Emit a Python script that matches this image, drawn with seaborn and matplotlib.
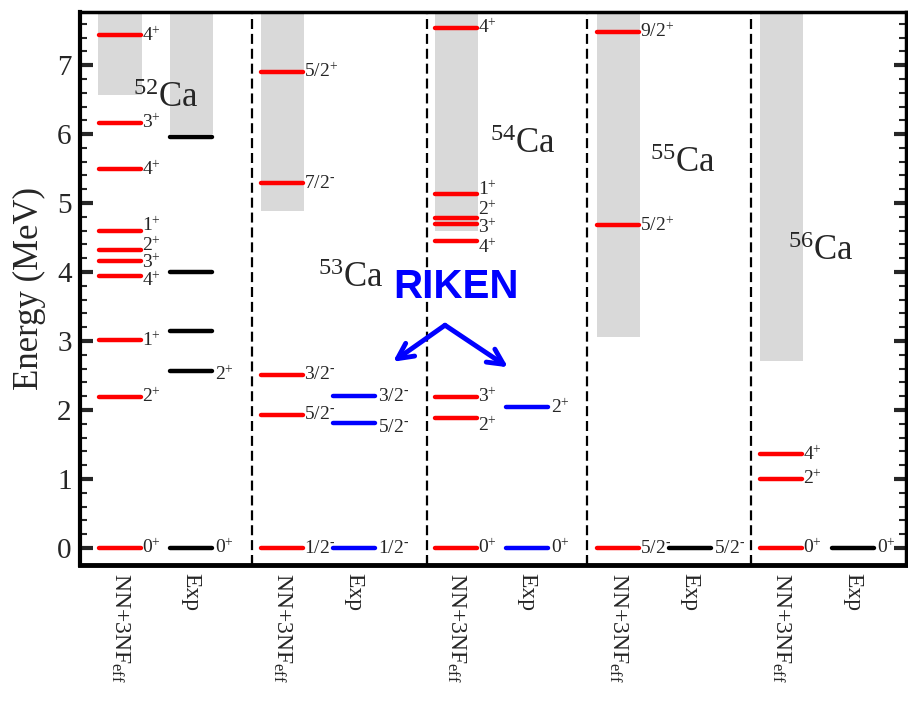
import numpy as np
import pandas as pd
import matplotlib
matplotlib.use("Agg")
import matplotlib.pyplot as plt
import seaborn as sns

# ---------------- data ----------------
nuclei = ["52", "53", "54", "55", "56"]
col_labels = ["NN+3NF$_{\\mathrm{eff}}$", "Exp"]

th_E = [
    [0.00, 2.19, 3.01, 3.94, 4.16, 4.32, 4.59, 5.49, 6.16, 7.43],
    [0.00, 1.93, 2.51, 5.29, 6.90],
    [0.00, 1.88, 2.19, 4.45, 4.70, 4.78, 5.13, 7.54],
    [0.00, 4.68, 7.48],
    [0.00, 1.00, 1.36],
]
th_J = [
    ["0+", "2+", "1+", "4+", "3+", "2+", "1+", "4+", "3+", "4+"],
    ["1/2-", "5/2-", "3/2-", "7/2-", "5/2+"],
    ["0+", "2+", "3+", "4+", "3+", "2+", "1+", "4+"],
    ["5/2-", "5/2+", "9/2+"],
    ["0+", "2+", "4+"],
]
th_label_E = [
    [0.00, 2.19, 3.01, 3.87, 4.13, 4.39, 4.68, 5.49, 6.16, 7.43],
    [0.00, 1.93, 2.51, 5.29, 6.90],
    [0.00, 1.77, 2.19, 4.36, 4.64, 4.91, 5.19, 7.54],
    [0.00, 4.68, 7.48],
    [0.00, 1.00, 1.36],
]
exp_E = [
    [0.00, 2.56, 3.15, 4.00, 5.96],
    [0.00, 1.81, 2.20],
    [0.00, 2.04],
    [0.00],
    [0.00],
]
exp_J = [
    ["0+", "2+", "", "", ""],
    ["1/2-", "5/2-", "3/2-"],
    ["0+", "2+"],
    ["5/2-"],
    ["0+"],
]
exp_label_E = [
    [0.00, 2.52, 3.15, 4.00, 5.96],
    [0.00, 1.75, 2.20],
    [0.00, 2.04],
    [0.00],
    [0.00],
]
exp_kind = ["black", "blue", "blue", "black", "black"]
th_continuum = [6.57, 4.88, 4.59, 3.06, 2.71]
exp_continuum = [6.00, None, None, None, None]

# ---------------- layout ----------------
th_x = [120, 282, 456, 618, 781]
exp_x = [191, 354, 527, 690, 853]
separators = [252, 427, 587, 751]
half_w = 21
XLIM = (80, 906)
YLIM = (-0.246, 7.77)
nuc_pos = [(133, 6.40), (318, 3.78), (490, 5.72), (650, 5.45), (788, 4.17)]

sns.set_theme(style="ticks")
plt.rcParams["font.family"] = ["Liberation Serif", "DejaVu Serif"]
plt.rcParams["mathtext.fontset"] = "custom"
plt.rcParams["mathtext.rm"] = "Liberation Serif"
plt.rcParams["mathtext.it"] = "Liberation Serif:italic"
plt.rcParams["mathtext.bf"] = "Liberation Serif:bold"

fig = plt.figure(figsize=(9.08, 7.01), dpi=100)
ax = fig.add_axes([80 / 908, 1 - 565 / 701, (906 - 80) / 908, (565 - 12) / 701])

# continuum boxes
for i in range(5):
    ax.bar(th_x[i], YLIM[1] - th_continuum[i], bottom=th_continuum[i],
           width=2 * half_w + 1, color="#d9d9d9", zorder=0, linewidth=0)
    if exp_continuum[i] is not None:
        ax.bar(exp_x[i], YLIM[1] - exp_continuum[i], bottom=exp_continuum[i],
               width=2 * half_w + 1, color="#d9d9d9", zorder=0, linewidth=0)

# level segments
rows = []
seg = 0
for i in range(5):
    for e in th_E[i]:
        for xx in (th_x[i] - half_w, th_x[i] + half_w):
            rows.append(dict(x=xx, E=e, seg=seg, kind="red"))
        seg += 1
    for e in exp_E[i]:
        for xx in (exp_x[i] - half_w, exp_x[i] + half_w):
            rows.append(dict(x=xx, E=e, seg=seg, kind=exp_kind[i]))
        seg += 1
df = pd.DataFrame(rows)
sns.lineplot(data=df, x="x", y="E", units="seg", estimator=None, hue="kind",
             palette={"red": "#ff0000", "black": "#000000", "blue": "#0000ff"},
             lw=3.2, legend=False, sort=False, ax=ax, zorder=3)


def jlabel(j):
    if not j:
        return ""
    base, sign = j[:-1], j[-1]
    sup = "+" if sign == "+" else "\u2010"
    return base + "$^{" + sup + "}$"


for i in range(5):
    for j, ly in zip(th_J[i], th_label_E[i]):
        ax.text(th_x[i] + half_w + 1, ly, jlabel(j), fontsize=14,
                ha="left", va="center", zorder=4)
    for j, ly in zip(exp_J[i], exp_label_E[i]):
        ax.text(exp_x[i] + half_w + 3, ly, jlabel(j), fontsize=14,
                ha="left", va="center", zorder=4)

# nucleus names
for n, (px, py) in zip(nuclei, nuc_pos):
    ax.text(px, py, "$^{" + n + "}$Ca", fontsize=25, ha="left", va="baseline")

# separators
for s in separators:
    ax.axvline(s, color="black", lw=1.6, ls=(0, (4.5, 2.2)), zorder=2)

# RIKEN annotation
ax.text(456, 3.78, "RIKEN", fontsize=29, fontweight="bold", color="#0000ff",
        family="Liberation Sans", ha="center", va="center")
apex = (445, 3.23)
for tip in [(393, 2.70), (508, 2.62)]:
    ax.annotate("", xy=tip, xytext=apex,
                arrowprops=dict(arrowstyle="->", color="#0000ff", lw=3.5,
                                mutation_scale=28, shrinkA=0, shrinkB=0))

ax.set_xlim(*XLIM)
ax.set_ylim(*YLIM)

ax.set_yticks(range(0, 8))
ax.set_yticks(np.arange(0, 7.8, 0.2), minor=True)
ax.tick_params(axis="y", which="major", direction="in", length=9, width=3,
               right=True, labelsize=21, pad=6)
ax.tick_params(axis="y", which="minor", direction="in", length=5, width=1.5,
               right=True)

xt = []
xl = []
for i in range(5):
    xt += [th_x[i], exp_x[i]]
    xl += col_labels
ax.set_xticks(xt)
ax.set_xticklabels(xl, rotation=270, fontsize=17, ha="center", va="top")
ax.set_xticks(separators, minor=True)
ax.tick_params(axis="x", which="major", length=0, pad=6)
ax.tick_params(axis="x", which="minor", direction="in", length=6, width=1.5)

ax.set_ylabel("Energy (MeV)", fontsize=25, labelpad=8)
ax.set_xlabel("")

for side, lw in [("left", 3), ("bottom", 3.5), ("top", 2.5), ("right", 2.5)]:
    ax.spines[side].set_linewidth(lw)
    ax.spines[side].set_color("black")

fig.savefig("out.png", dpi=100)
